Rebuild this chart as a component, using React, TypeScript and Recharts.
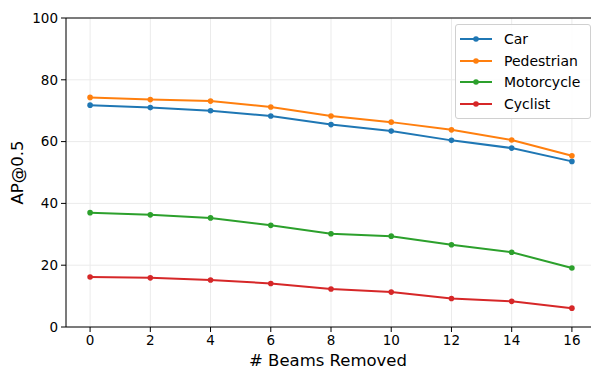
import React from 'react';
import { LineChart, Line, XAxis, YAxis, CartesianGrid, ReferenceLine, Label } from 'recharts';

const beams = [0, 2, 4, 6, 8, 10, 12, 14, 16];
const car = [71.8, 71.0, 70.0, 68.3, 65.5, 63.4, 60.4, 57.9, 53.6];
const pedestrian = [74.3, 73.6, 73.1, 71.2, 68.3, 66.3, 63.8, 60.5, 55.4];
const motorcycle = [37.0, 36.3, 35.3, 32.9, 30.2, 29.4, 26.6, 24.2, 19.1];
const cyclist = [16.2, 15.9, 15.2, 14.1, 12.3, 11.3, 9.2, 8.3, 6.1];
const xTicks = [0, 2, 4, 6, 8, 10, 12, 14, 16];
const yTicks = [0, 20, 40, 60, 80, 100];

const seriesDefs = [
  { key: 'car', name: 'Car', color: '#1f77b4' },
  { key: 'pedestrian', name: 'Pedestrian', color: '#ff7f0e' },
  { key: 'motorcycle', name: 'Motorcycle', color: '#2ca02c' },
  { key: 'cyclist', name: 'Cyclist', color: '#d62728' },
];

const data = beams.map((b, i) => ({
  beams: b,
  car: car[i],
  pedestrian: pedestrian[i],
  motorcycle: motorcycle[i],
  cyclist: cyclist[i],
}));

const FONT = '"DejaVu Sans", sans-serif';

const LegendBox = () => (
  <div
    style={{
      position: 'absolute',
      left: 455,
      top: 24,
      border: '1px solid #d0d0d0',
      borderRadius: 3,
      background: 'rgba(255,255,255,0.85)',
      padding: '3px 10px 3px 3px',
      fontFamily: FONT,
      fontSize: 14,
      color: '#000',
    }}
  >
    {seriesDefs.map((s) => (
      <div key={s.key} style={{ display: 'flex', alignItems: 'center', height: 21.7 }}>
        <svg width={34} height={10} style={{ marginRight: 11 }}>
          <line x1={1} y1={5} x2={33} y2={5} stroke={s.color} strokeWidth={2} />
          <circle cx={17} cy={5} r={2.8} fill={s.color} />
        </svg>
        <span>{s.name}</span>
      </div>
    ))}
  </div>
);

export default function App() {
  return (
    <div style={{ position: 'absolute', left: 0, top: 0, width: 591, height: 369, overflow: 'hidden', background: '#fff' }}>
      <LineChart width={596} height={369} data={data} margin={{ top: 18, right: 0, bottom: 0, left: 0 }}>
        <CartesianGrid stroke="#ebebeb" strokeWidth={1} />
        <XAxis
          dataKey="beams"
          type="number"
          domain={[-0.8, 16.8]}
          ticks={xTicks}
          height={42}
          stroke="#000"
          tickSize={5}
          tick={{ fill: '#000', fontSize: 13.5, fontFamily: FONT }}
          tickMargin={3}
          interval={0}
        >
          <Label value="# Beams Removed" position="insideBottom" offset={3} dx={-3} style={{ fill: '#000', fontSize: 16.5, fontFamily: FONT }} />
        </XAxis>
        <YAxis
          type="number"
          domain={[0, 100]}
          ticks={yTicks}
          width={66}
          stroke="#000"
          tickSize={5}
          tick={{ fill: '#000', fontSize: 13.5, fontFamily: FONT }}
          tickMargin={3}
          interval={0}
        >
          <Label value="AP@0.5" angle={-90} position="insideLeft" offset={17} style={{ fill: '#000', fontSize: 16.5, fontFamily: FONT, textAnchor: 'middle' }} />
        </YAxis>
        <ReferenceLine y={100} stroke="#000" strokeWidth={1} />
        <ReferenceLine x={16.8} stroke="#000" strokeWidth={1} />
        {seriesDefs.map((s) => (
          <Line
            key={s.key}
            dataKey={s.key}
            name={s.name}
            stroke={s.color}
            strokeWidth={2}
            dot={{ r: 2.8, fill: s.color, stroke: s.color, strokeWidth: 0 }}
            activeDot={false}
            isAnimationActive={false}
          />
        ))}
      </LineChart>
      <LegendBox />
    </div>
  );
}
